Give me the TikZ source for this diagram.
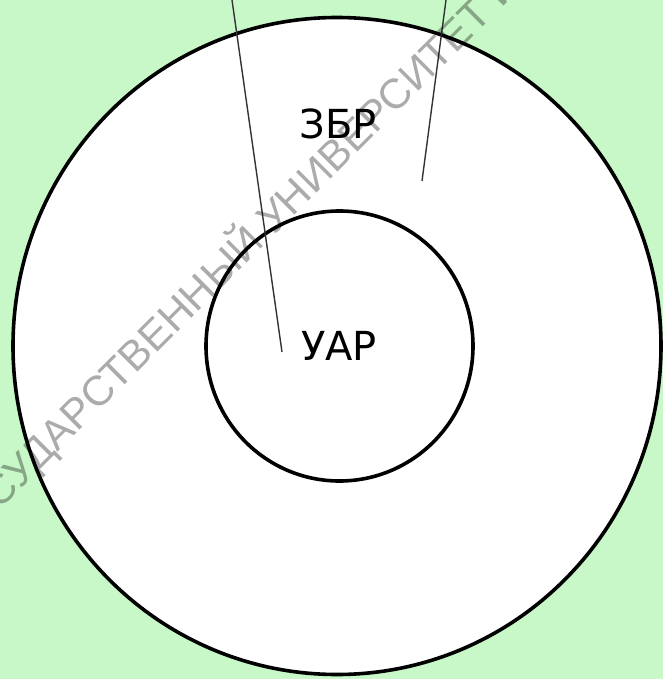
\documentclass[tikz,border=0pt]{standalone}
\usepackage{fontspec}
\setmainfont{DejaVu Sans}
\newfontfamily\wmfont{Liberation Sans}
\usetikzlibrary{shapes.geometric}
\definecolor{bgGreen}{HTML}{C8F8C8}
\tikzset{
  ring/.style={draw=black, line width=3.6pt, fill=white, ellipse, inner sep=0pt},
  leader/.style={draw=black!80, line width=1.4pt},
  lbl/.style={font=\fontsize{40}{40}\selectfont, text=black, inner sep=0pt},
  wmark/.style={font=\wmfont\fontsize{42}{42}\selectfont, text=black, opacity=0.33, inner sep=0pt}
}
\begin{document}
\begin{tikzpicture}[x=1pt,y=-1pt]
  \fill[bgGreen] (0,0) rectangle (663,679);
  \useasboundingbox (0,0) rectangle (663,679);
  \begin{scope}
    \clip (0,0) rectangle (663,679);
    \node[ring, minimum width=648pt, minimum height=657pt] (outer) at (337,346) {};
    \node[ring, minimum width=267pt, minimum height=270pt] (inner) at (339.5,346) {};
    \node[lbl] (zbr) at (338,124) {ЗБР};
    \node[lbl] (uar) at (339,346) {УАР};
    \coordinate (t1) at (232,0);
    \coordinate (e1) at (282,352);
    \coordinate (t2) at (446,0);
    \coordinate (e2) at (422,181);
    \draw[leader] (t1) -- (e1);
    \draw[leader] (t2) -- (e2);
    \node[wmark, rotate=45, anchor=base west] (wm) at (-38,548) {ГОСУДАРСТВЕННЫЙ УНИВЕРСИТЕТ ИМЕНИ};
  \end{scope}
\end{tikzpicture}
\end{document}
